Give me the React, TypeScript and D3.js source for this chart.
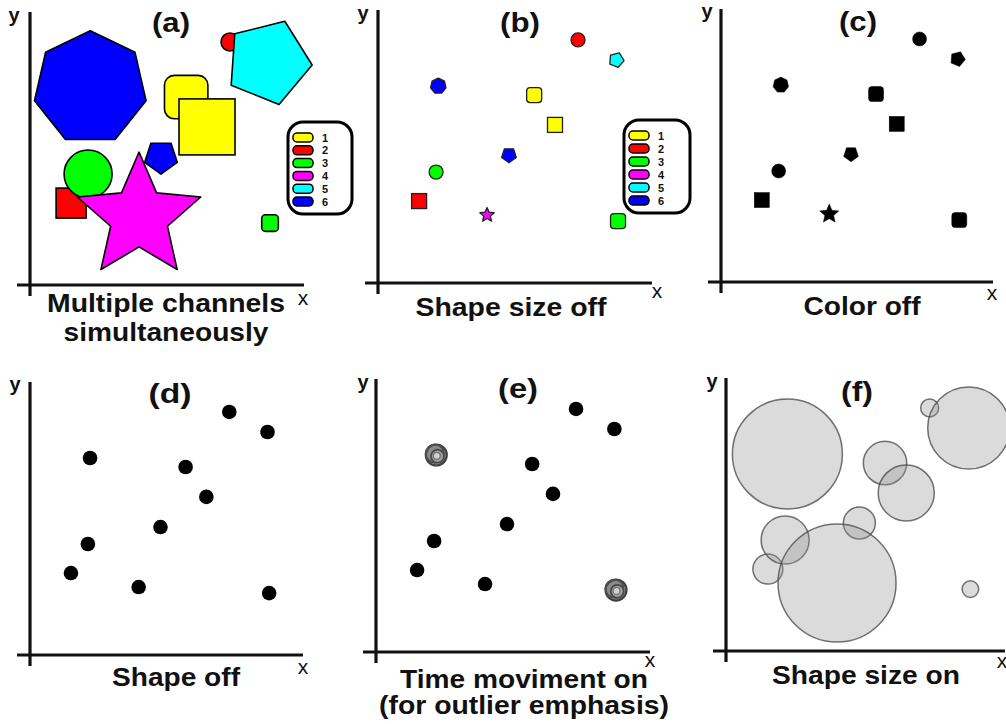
import React from "react";
import * as d3 from "d3";

// ---------- data ----------
const pointX = [2.2, 7.3, 8.7, 5.7, 6.46, 4.78, 1.5, 2.12, 3.98, 8.76];
const pointY = [7.19, 8.87, 8.14, 6.86, 5.77, 4.67, 2.99, 4.05, 2.48, 2.26];
const pointGroup = [6, 2, 5, 1, 1, 6, 2, 3, 4, 3];
const pointShape = [
  "heptagon",
  "circle",
  "pentagonTilt",
  "roundSquare",
  "square",
  "pentagonDown",
  "square",
  "circle",
  "star",
  "roundSquare",
];
const pointSize = [55, 9, 41, 21.7, 28, 16, 15, 24, 59, 8.3];
const pointOutlier = [true, false, false, false, false, false, false, false, false, true];

const legendLabels = ["1", "2", "3", "4", "5", "6"];
const groupColors = ["#ffff00", "#ff0000", "#00ff00", "#ff00ff", "#00ffff", "#0000ff"];

const panelTitles = ["(a)", "(b)", "(c)", "(d)", "(e)", "(f)"];
const panelCaptions = [
  ["Multiple channels", "simultaneously"],
  ["Shape size off"],
  ["Color off"],
  ["Shape off"],
  ["Time moviment on", "(for outlier emphasis)"],
  ["Shape size on"],
];

// ---------- layout ----------
const W = 1006;
const H = 724;
const FONT = "'Liberation Sans', Arial, sans-serif";

type Panel = {
  ox: number;
  oy: number;
  xLen: number;
  titleX: number;
  titleY: number;
  titleW: number;
  capX: number;
  capY: number[];
  capW: number[];
  xLab: [number, number];
  yLab: [number, number];
  mode: string;
};

const panels: Panel[] = [
  { ox: 30, oy: 285, xLen: 274, titleX: 171, titleY: 32, titleW: 38, capX: 166, capY: [312, 341], capW: [238, 205], xLab: [303, 305], yLab: [14, 22], mode: "full" },
  { ox: 378, oy: 283, xLen: 274, titleX: 520, titleY: 32, titleW: 40, capX: 511, capY: [316], capW: [191], xLab: [657, 298], yLab: [363, 20], mode: "noSize" },
  { ox: 721, oy: 282, xLen: 272, titleX: 858, titleY: 31, titleW: 38, capX: 862, capY: [315], capW: [117], xLab: [992, 300], yLab: [707, 18], mode: "noColor" },
  { ox: 30, oy: 655, xLen: 273, titleX: 170, titleY: 403, titleW: 43, capX: 176, capY: [686], capW: [128], xLab: [303, 674], yLab: [15, 391], mode: "dots" },
  { ox: 376, oy: 652, xLen: 274, titleX: 518, titleY: 398, titleW: 40, capX: 524, capY: [688, 714], capW: [248, 290], xLab: [650, 667], yLab: [363, 389], mode: "motion" },
  { ox: 726, oy: 651, xLen: 279, titleX: 857, titleY: 401, titleW: 32, capX: 866, capY: [684], capW: [188], xLab: [1002, 668], yLab: [712, 388], mode: "bubbles" },
];

// ---------- shape helpers ----------
const line = d3.line();
function polygon(n: number, R: number, rotDeg: number): string {
  const pts = d3.range(n).map((k) => {
    const a = ((rotDeg + (k * 360) / n) * Math.PI) / 180;
    return [R * Math.cos(a), R * Math.sin(a)] as [number, number];
  });
  return line(pts) + "Z";
}
function star(R: number, ratio: number): string {
  const pts = d3.range(10).map((k) => {
    const a = ((-90 + k * 36) * Math.PI) / 180;
    const r = k % 2 === 0 ? R : R * ratio;
    return [r * Math.cos(a), r * Math.sin(a)] as [number, number];
  });
  return line(pts) + "Z";
}

function Shape({ shape, s, fill, stroke, sw, starScale }: { shape: string; s: number; fill: string; stroke: string; sw: number; starScale?: number }) {
  switch (shape) {
    case "heptagon":
      return <path d={polygon(7, s * 1.04, -90)} fill={fill} stroke={stroke} strokeWidth={sw} strokeLinejoin="round" />;
    case "pentagonTilt":
      return <path d={polygon(5, s * 1.07, -68)} fill={fill} stroke={stroke} strokeWidth={sw} strokeLinejoin="round" />;
    case "pentagonDown":
      return <path d={polygon(5, s * 1.07, 90)} fill={fill} stroke={stroke} strokeWidth={sw} strokeLinejoin="round" />;
    case "circle":
      return <circle r={s} fill={fill} stroke={stroke} strokeWidth={sw} />;
    case "square":
      return <rect x={-s} y={-s} width={2 * s} height={2 * s} fill={fill} stroke={stroke} strokeWidth={sw} />;
    case "roundSquare":
      return <rect x={-s} y={-s} width={2 * s} height={2 * s} rx={s * 0.45} fill={fill} stroke={stroke} strokeWidth={sw} />;
    case "star":
      return <path d={star(s * (starScale ?? 1.1), 0.46)} fill={fill} stroke={stroke} strokeWidth={sw} strokeLinejoin="round" />;
    default:
      return null;
  }
}

const smallSize: Record<string, number> = {
  heptagon: 7.6,
  circle: 7,
  pentagonTilt: 7.2,
  pentagonDown: 7.2,
  square: 7.5,
  roundSquare: 7.5,
  star: 7.2,
};

function Legend({ x, y, w, h }: { x: number; y: number; w: number; h: number }) {
  const yScale = d3.scalePoint<string>().domain(legendLabels).range([y + 15.5, y + h - 12.5]);
  return (
    <g>
      <rect x={x} y={y} width={w} height={h} rx={15} fill="#fff" stroke="#000" strokeWidth={3} />
      {legendLabels.map((lab, i) => (
        <g key={lab}>
          <rect x={x + 5} y={(yScale(lab) as number) - 4.5} width={20} height={9} rx={4} fill={groupColors[i]} stroke="#000" strokeWidth={1.5} />
          <text x={x + 37} y={(yScale(lab) as number) + 4} textAnchor="middle" fontFamily={FONT} fontWeight="bold" fontSize={11} fill="#111">
            {lab}
          </text>
        </g>
      ))}
    </g>
  );
}

function PanelView({ p, idx }: { p: Panel; idx: number }) {
  const x = d3.scaleLinear().domain([0, 10]).range([p.ox, p.ox + p.xLen]);
  const y = d3.scaleLinear().domain([0, 10]).range([p.oy, p.oy - 274]);
  const pts = d3.range(pointX.length);

  let marks: React.ReactNode = null;
  if (p.mode === "full") {
    marks = pts.map((i) => (
      <g key={i} transform={`translate(${x(pointX[i])},${y(pointY[i])})`}>
        <Shape shape={pointShape[i]} s={pointSize[i]} fill={groupColors[pointGroup[i] - 1]} stroke="#000" sw={1.6} />
      </g>
    ));
  } else if (p.mode === "noSize") {
    marks = pts.map((i) => (
      <g key={i} transform={`translate(${x(pointX[i])},${y(pointY[i])})`}>
        <Shape shape={pointShape[i]} s={smallSize[pointShape[i]]} fill={groupColors[pointGroup[i] - 1]} stroke="#222" sw={1.3} starScale={1.05} />
      </g>
    ));
  } else if (p.mode === "noColor") {
    marks = pts.map((i) => (
      <g key={i} transform={`translate(${x(pointX[i])},${y(pointY[i])})`}>
        <Shape shape={pointShape[i]} s={pointShape[i] === "star" ? 9.5 : smallSize[pointShape[i]]} fill="#000" stroke="#000" sw={0.5} starScale={1.05} />
      </g>
    ));
  } else if (p.mode === "dots") {
    marks = pts.map((i) => <circle key={i} cx={x(pointX[i])} cy={y(pointY[i])} r={7.3} fill="#000" />);
  } else if (p.mode === "motion") {
    marks = pts.map((i) =>
      pointOutlier[i] ? (
        <g key={i} transform={`translate(${x(pointX[i])},${y(pointY[i])})`} filter="url(#blurMotion)">
          <circle r={10.5} fill="#8a8a8a" stroke="#404040" strokeWidth={2.2} />
          <circle cx={-1.5} cy={-1.5} r={9} fill="none" stroke="#505050" strokeWidth={1.8} />
          <circle cx={1.2} cy={1.2} r={6.5} fill="#a0a0a0" stroke="#4a4a4a" strokeWidth={1.8} />
          <circle cx={0.5} cy={0.8} r={3.5} fill="#d0d0d0" stroke="#707070" strokeWidth={1.3} />
        </g>
      ) : (
        <circle key={i} cx={x(pointX[i])} cy={y(pointY[i])} r={7.3} fill="#000" />
      )
    );
  } else if (p.mode === "bubbles") {
    marks = pts.map((i) => (
      <circle key={i} cx={x(pointX[i])} cy={y(pointY[i])} r={pointSize[i]} fill="rgba(150,150,150,0.34)" stroke="rgba(70,70,70,0.75)" strokeWidth={1.5} />
    ));
  }

  return (
    <g>
      {/* axes */}
      <line x1={p.ox} x2={p.ox} y1={p.oy - 273} y2={p.oy + 11} stroke="#111" strokeWidth={3.2} />
      <line x1={p.ox - 13} x2={x(10)} y1={p.oy} y2={p.oy} stroke="#111" strokeWidth={3.2} />
      <text x={p.yLab[0]} y={p.yLab[1]} textAnchor="middle" fontFamily={FONT} fontWeight="bold" fontSize={20} fill="#111">y</text>
      <text x={p.xLab[0]} y={p.xLab[1]} textAnchor="middle" fontFamily={FONT} fontSize={21} fill="#111">x</text>
      {marks}
      <text x={p.titleX} y={p.titleY} textAnchor="middle" fontFamily={FONT} fontWeight="bold" fontSize={28} textLength={p.titleW} lengthAdjust="spacingAndGlyphs" fill="#111">
        {panelTitles[idx]}
      </text>
      {panelCaptions[idx].map((c, k) => (
        <text key={k} x={p.capX} y={p.capY[k]} textAnchor="middle" fontFamily={FONT} fontWeight="bold" fontSize={25} textLength={p.capW[k]} lengthAdjust="spacingAndGlyphs" fill="#111">
          {c}
        </text>
      ))}
    </g>
  );
}

export default function App() {
  return (
    <div style={{ position: "absolute", left: 0, top: 0, width: W, height: H, background: "#fff" }}>
      <svg width={W} height={H} viewBox={`0 0 ${W} ${H}`} style={{ display: "block" }}>
        <defs>
          <filter id="blurMotion" x="-50%" y="-50%" width="200%" height="200%">
            <feGaussianBlur stdDeviation={0.45} />
          </filter>
        </defs>
        <rect width={W} height={H} fill="#fff" />
        {panels.map((p, i) => (
          <PanelView key={i} p={p} idx={i} />
        ))}
        <Legend x={288} y={122} w={64} h={92} />
        <Legend x={624} y={120} w={66} h={93} />
      </svg>
    </div>
  );
}
